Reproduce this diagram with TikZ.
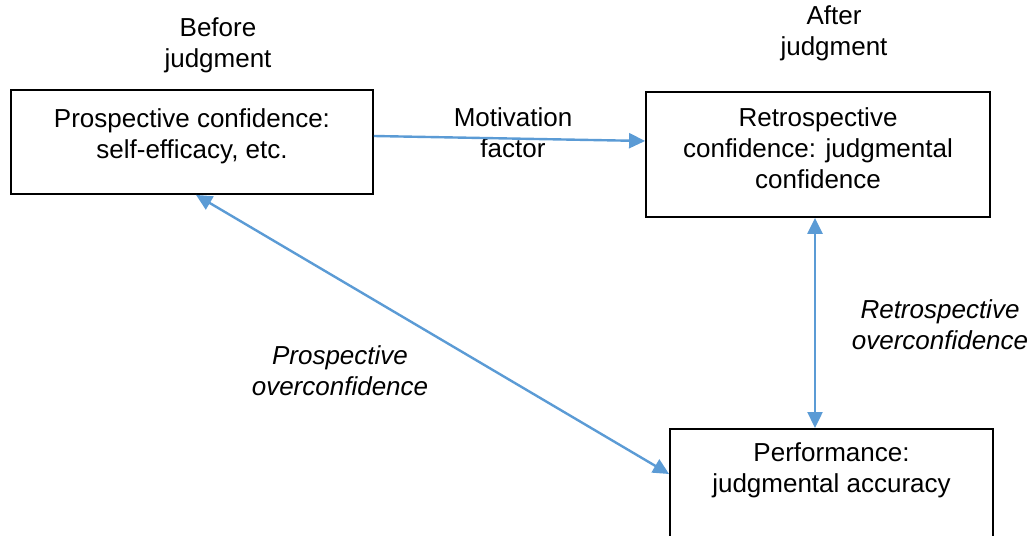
\documentclass[tikz,border=0pt]{standalone}
\usepackage{fontspec}
\setmainfont{Liberation Sans}
\usetikzlibrary{arrows.meta}
\definecolor{linkblue}{RGB}{91,155,213}

\begin{document}
\begin{tikzpicture}[
  x=0.5pt, y=-0.5pt,
  font=\fontsize{13}{15.5}\selectfont,
  box/.style={draw, line width=0.9pt, rectangle, align=center, inner sep=3pt},
  lbl/.style={align=center, inner sep=0pt},
  link/.style={draw=linkblue, line width=1.2pt, -{Triangle[length=8pt,width=7.5pt]}},
  both/.style={draw=linkblue, line width=1.2pt, {Triangle[length=8pt,width=7.5pt]}-{Triangle[length=8pt,width=7.5pt]}}
]
\clip (0,0) rectangle (1032,535);

\node[box, minimum width=181pt, minimum height=52pt, text depth=8pt] (prosp) at (192,142)
  {Prospective confidence:\\self-efficacy, etc.};
\node[box, minimum width=172pt, minimum height=62.5pt, text depth=6pt] (retro) at (818,154.5)
  {Retrospective\\confidence: judgmental\\confidence};
\node[box, anchor=north, minimum width=161.5pt, inner ysep=7pt, text depth=60pt] (perf) at (831.5,428)
  {Performance:\\judgmental accuracy};

\node[lbl] (before) at (218,45) {Before\\judgment};
\node[lbl] (after) at (834,33) {After\\judgment};
\node[lbl] (motiv) at (513,133) {Motivation\\factor};
\node[lbl, font=\fontsize{13}{15.5}\selectfont\itshape] (povc) at (340,371) {Prospective\\overconfidence};
\node[lbl, font=\fontsize{13}{15.5}\selectfont\itshape] (rovc) at (940,325) {Retrospective\\overconfidence};

\coordinate (vtop) at ([xshift=-1.5pt]retro.south);
\draw[link] ([yshift=3pt]prosp.east) -- ([yshift=6.75pt]retro.west);
\draw[both] ([xshift=2pt]prosp.south) -- ([yshift=-23pt]perf.north west);
\draw[both] (vtop) -- (vtop |- perf.north);
\end{tikzpicture}
\end{document}
